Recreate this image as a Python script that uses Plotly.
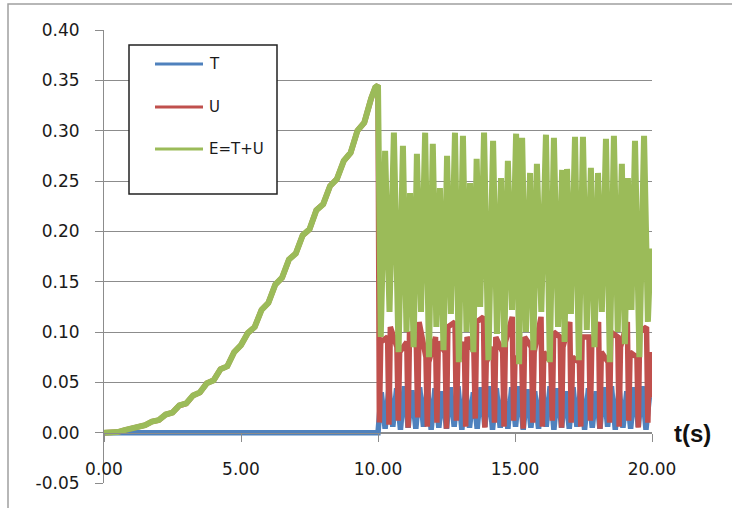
import plotly.graph_objects as go

# ---- data ----
# build-up phase (T = 0, so U = E)
t_rise = [0.0, 0.25, 0.5, 0.75, 1.0, 1.25, 1.5, 1.75, 2.0, 2.25, 2.5, 2.75, 3.0, 3.25, 3.5, 3.75,
          4.0, 4.25, 4.5, 4.75, 5.0, 5.25, 5.5, 5.75, 6.0, 6.25, 6.5, 6.75, 7.0, 7.25, 7.5, 7.75,
          8.0, 8.25, 8.5, 8.75, 9.0, 9.25, 9.5, 9.75, 9.9, 10.0]
E_rise = [0.0, 0.0003, 0.0006, 0.0025, 0.004, 0.0065, 0.0075, 0.011, 0.0125, 0.018, 0.020, 0.027,
          0.029, 0.037, 0.040, 0.049, 0.052, 0.063, 0.066, 0.080, 0.087, 0.099, 0.105, 0.122,
          0.129, 0.147, 0.154, 0.172, 0.178, 0.196, 0.202, 0.221, 0.227, 0.245, 0.252, 0.270,
          0.278, 0.300, 0.308, 0.332, 0.343, 0.345]
U_rise = [0.0, 0.0003, 0.0006, 0.0025, 0.004, 0.0065, 0.0075, 0.011, 0.0125, 0.018, 0.020, 0.027,
          0.029, 0.037, 0.040, 0.049, 0.052, 0.063, 0.066, 0.080, 0.087, 0.099, 0.105, 0.122,
          0.129, 0.147, 0.154, 0.172, 0.178, 0.196, 0.202, 0.221, 0.227, 0.245, 0.252, 0.270,
          0.278, 0.300, 0.308, 0.332, 0.343, 0.345]
t_T_rise = [0.0, 10.0]
T_rise = [0.0, 0.0]

# free oscillation phase: E (peaks / troughs)
t_E_osc = [10.10, 10.26, 10.42, 10.58, 10.75, 10.91, 11.04, 11.17, 11.30, 11.42, 11.57, 11.72,
           11.86, 12.00, 12.13, 12.26, 12.39, 12.52, 12.66, 12.81, 12.95, 13.10, 13.23, 13.36,
           13.48, 13.60, 13.73, 13.87, 14.03, 14.20, 14.34, 14.49, 14.61, 14.74, 14.89, 15.04,
           15.15, 15.26, 15.40, 15.55, 15.67, 15.80, 15.96, 16.13, 16.27, 16.42, 16.57, 16.72,
           16.81, 16.90, 17.04, 17.19, 17.33, 17.48, 17.62, 17.77, 17.90, 18.03, 18.17, 18.32,
           18.46, 18.61, 18.75, 18.90, 19.01, 19.12, 19.25, 19.38, 19.54, 19.71, 19.85, 19.95]
E_osc = [0.095, 0.280, 0.120, 0.298, 0.080, 0.285, 0.100, 0.238, 0.085, 0.277, 0.120, 0.298,
         0.075, 0.287, 0.105, 0.243, 0.082, 0.275, 0.118, 0.298, 0.070, 0.295, 0.100, 0.248,
         0.080, 0.272, 0.125, 0.298, 0.072, 0.290, 0.098, 0.253, 0.085, 0.270, 0.122, 0.297,
         0.068, 0.293, 0.100, 0.258, 0.082, 0.267, 0.120, 0.296, 0.070, 0.293, 0.105, 0.261,
         0.090, 0.262, 0.118, 0.294, 0.072, 0.294, 0.102, 0.263, 0.085, 0.258, 0.120, 0.292,
         0.070, 0.295, 0.100, 0.267, 0.088, 0.253, 0.122, 0.290, 0.075, 0.295, 0.110, 0.183]

# free oscillation phase: U (plateaus with sharp dips)
t_U_osc = [10.05, 10.10,
           10.35, 10.40, 10.45, 10.69, 10.74, 10.79, 11.05, 11.10, 11.15, 11.40, 11.45, 11.50,
           11.75, 11.80, 11.85, 12.10, 12.15, 12.20, 12.45, 12.50, 12.55, 12.81, 12.86, 12.91,
           13.15, 13.20, 13.25, 13.50, 13.55, 13.60, 13.85, 13.90, 13.95, 14.20, 14.25, 14.30,
           14.55, 14.60, 14.65, 14.90, 14.95, 15.00, 15.25, 15.30, 15.35, 15.60, 15.65, 15.70,
           15.95, 16.00, 16.05, 16.31, 16.36, 16.41, 16.65, 16.70, 16.75, 17.00, 17.05, 17.10,
           17.35, 17.40, 17.45, 17.70, 17.75, 17.80, 18.05, 18.10, 18.15, 18.40, 18.45, 18.50,
           18.75, 18.80, 18.85, 19.10, 19.15, 19.20, 19.45, 19.50, 19.55, 19.80, 19.85, 19.90,
           19.95]
U_osc = [0.010, 0.090,
         0.095, 0.008, 0.105, 0.085, 0.012, 0.080, 0.090, 0.005, 0.100, 0.085, 0.015, 0.110,
         0.075, 0.006, 0.070, 0.095, 0.010, 0.090, 0.080, 0.004, 0.105, 0.110, 0.012, 0.070,
         0.090, 0.006, 0.095, 0.080, 0.014, 0.110, 0.115, 0.005, 0.070, 0.085, 0.010, 0.095,
         0.080, 0.006, 0.090, 0.115, 0.012, 0.075, 0.070, 0.004, 0.095, 0.085, 0.010, 0.080,
         0.115, 0.006, 0.080, 0.070, 0.012, 0.100, 0.095, 0.005, 0.085, 0.110, 0.010, 0.075,
         0.070, 0.006, 0.095, 0.095, 0.012, 0.085, 0.110, 0.004, 0.080, 0.070, 0.010, 0.100,
         0.095, 0.006, 0.085, 0.110, 0.012, 0.080, 0.075, 0.005, 0.100, 0.105, 0.010, 0.080,
         0.035]

# free oscillation phase: T
t_T_osc = [10.12, 10.26, 10.40, 10.54, 10.68, 10.82, 10.96, 11.10, 11.24, 11.38, 11.52, 11.66,
           11.80, 11.94, 12.08, 12.22, 12.36, 12.50, 12.64, 12.78, 12.92, 13.06, 13.20, 13.34,
           13.48, 13.62, 13.76, 13.90, 14.04, 14.18, 14.32, 14.46, 14.60, 14.74, 14.88, 15.02,
           15.16, 15.30, 15.44, 15.58, 15.72, 15.86, 16.00, 16.14, 16.28, 16.42, 16.56, 16.70,
           16.84, 16.98, 17.12, 17.26, 17.40, 17.54, 17.68, 17.82, 17.96, 18.10, 18.24, 18.38,
           18.52, 18.66, 18.80, 18.94, 19.08, 19.22, 19.36, 19.50, 19.64, 19.78, 19.92, 19.95]
T_osc = [0.040, 0.004, 0.045, 0.006, 0.044, 0.003, 0.046, 0.005, 0.042, 0.004, 0.045, 0.006,
         0.046, 0.003, 0.044, 0.005, 0.041, 0.004, 0.045, 0.006, 0.046, 0.003, 0.044, 0.005,
         0.040, 0.004, 0.045, 0.006, 0.046, 0.003, 0.044, 0.005, 0.041, 0.004, 0.045, 0.006,
         0.046, 0.003, 0.043, 0.005, 0.041, 0.004, 0.045, 0.006, 0.046, 0.003, 0.044, 0.005,
         0.041, 0.004, 0.045, 0.006, 0.046, 0.003, 0.044, 0.005, 0.041, 0.004, 0.045, 0.006,
         0.046, 0.003, 0.044, 0.005, 0.041, 0.004, 0.045, 0.006, 0.046, 0.003, 0.040, 0.035]

series_names = ["T", "U", "E=T+U"]
series_colors = ["#4F81BD", "#C0504D", "#9BBB59"]
series_widths = [5.5, 5.5, 6]
x_ticks = [0, 5, 10, 15, 20]
x_ticktext = ["0.00", "5.00", "10.00", "15.00", "20.00"]
y_ticks = [-0.05, 0.0, 0.05, 0.10, 0.15, 0.20, 0.25, 0.30, 0.35, 0.40]
y_ticktext = ["-0.05", "0.00", "0.05", "0.10", "0.15", "0.20", "0.25", "0.30", "0.35", "0.40"]

series_x = [t_T_rise + t_T_osc, t_rise + t_U_osc, t_rise + t_E_osc]
series_y = [T_rise + T_osc, U_rise + U_osc, E_rise + E_osc]

fig = go.Figure()
for name, xs, ys, col, w in zip(series_names, series_x, series_y, series_colors, series_widths):
    fig.add_trace(go.Scatter(x=xs, y=ys, mode="lines", name=name,
                             line=dict(color=col, width=w), showlegend=False))

W, H = 732, 508
L, R, TOP, B = 104, 80, 30, 25
pw, ph = W - L - R, H - TOP - B

def px(x):
    return (x - L) / pw

def py(y):
    return (H - B - y) / ph

gray = "#8c8c8c"
tickfont = dict(family="DejaVu Sans", size=17, color="#1a1a1a")

fig.update_layout(
    width=W, height=H, margin=dict(l=L, r=R, t=TOP, b=B),
    paper_bgcolor="white", plot_bgcolor="white",
    xaxis=dict(range=[0, 20], tickvals=x_ticks, ticktext=x_ticktext,
               anchor="free", position=0.05 / 0.45,
               showline=True, linecolor=gray, linewidth=1,
               ticks="outside", ticklen=8, tickcolor=gray,
               showgrid=False, zeroline=False, tickfont=tickfont,
               ticklabelstandoff=13),
    yaxis=dict(range=[-0.05, 0.40], tickvals=y_ticks, ticktext=y_ticktext,
               domain=[0, 1],
               showline=True, linecolor=gray, linewidth=1,
               ticks="outside", ticklen=8, tickcolor=gray,
               showgrid=True, gridcolor=gray, gridwidth=1,
               zeroline=False, tickfont=tickfont, ticklabelstandoff=12),
)

shapes = []
# outer chart border (left/top visible)
shapes.append(dict(type="rect", xref="paper", yref="paper",
                   x0=px(8), x1=1.3, y0=-0.2, y1=py(4),
                   line=dict(color="#a0a0a0", width=1.5), layer="below"))
# legend box
shapes.append(dict(type="rect", xref="paper", yref="paper",
                   x0=px(129), x1=px(277), y0=py(194), y1=py(45),
                   line=dict(color="#222222", width=1.5), fillcolor="white", layer="above"))
ann = []
for i, (name, col) in enumerate(zip(series_names, series_colors)):
    yy = [64, 107, 149][i]
    shapes.append(dict(type="line", xref="paper", yref="paper",
                       x0=px(155), x1=px(203), y0=py(yy), y1=py(yy),
                       line=dict(color=col, width=3), layer="above"))
    ann.append(dict(xref="paper", yref="paper", x=px(207), y=py(yy), text=name,
                    showarrow=False, xanchor="left", yanchor="middle",
                    font=dict(family="DejaVu Sans", size=15, color="#1a1a1a")))
ann.append(dict(xref="paper", yref="paper", x=px(692), y=py(433), text="<b>t(s)</b>",
                showarrow=False, xanchor="center", yanchor="middle",
                font=dict(family="Liberation Sans", size=24, color="#111111")))
fig.update_layout(shapes=shapes, annotations=ann)

fig.write_html("out.html")
